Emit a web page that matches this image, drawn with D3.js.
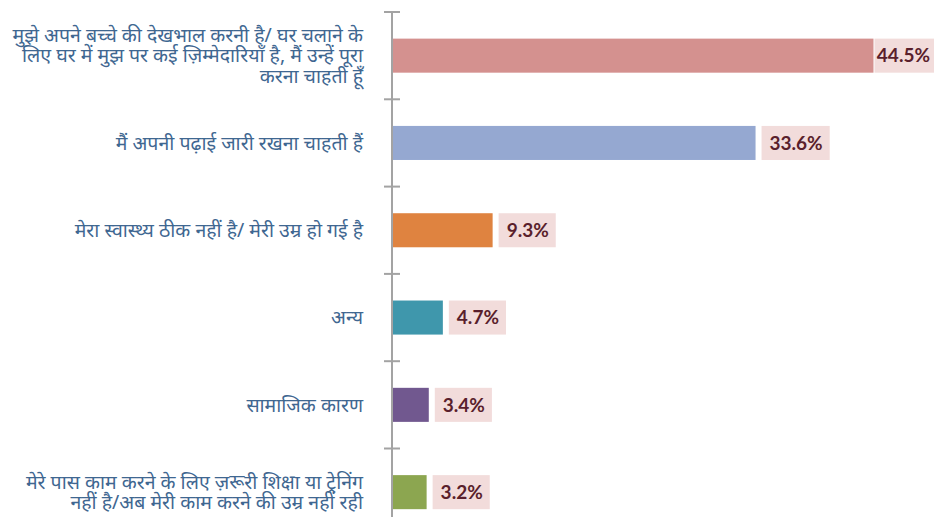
<!DOCTYPE html>
<html><head><meta charset="utf-8">
<script src="https://cdn.jsdelivr.net/npm/d3@7"></script>
<style>body{margin:0;background:#fff}svg{display:block}</style>
</head><body>
<svg id="c" width="934" height="517"></svg>
<script>
const categories = ["care","study","health","other","social","skills"];
const labelLines = [
  ["मुझे अपने बच्चे की देखभाल करनी है/ घर चलाने के","लिए घर में मुझ पर कई ज़िम्मेदारियाँ है, मैं उन्हें पूरा","करना चाहती हूँ"],
  ["मैं अपनी पढ़ाई जारी रखना चाहती हैं"],
  ["मेरा स्वास्थ्य ठीक नहीं है/ मेरी उम्र हो गई है"],
  ["अन्य"],
  ["सामाजिक कारण"],
  ["मेरे पास काम करने के लिए ज़रूरी शिक्षा या ट्रेनिंग","नहीं है/अब मेरी काम करने की उम्र नहीं रही"]
];
const values = [44.5, 33.6, 9.3, 4.7, 3.4, 3.2];
const valueLabels = ["44.5%","33.6%","9.3%","4.7%","3.4%","3.2%"];
const colors = ["#d4918f","#95a8d1","#df8340","#3f97ac","#71588f","#8ca650"];

const svg = d3.select("#c");
const x0 = 392;
const x = d3.scaleLinear().domain([0,50]).range([x0, x0+541]);
const y = d3.scaleBand().domain(categories).range([12, 12+87.3*6]).paddingInner(0.61).paddingOuter(0.305);
const step = y.step();

// axis
svg.append("line").attr("x1",x0).attr("x2",x0).attr("y1",12).attr("y2",517)
  .attr("stroke","#a3a3a3").attr("stroke-width",2);
categories.forEach((c,i)=>{
  const ty = y(c) - y.paddingOuter()*step;
  svg.append("line").attr("x1",x0-8).attr("x2",x0+8).attr("y1",ty).attr("y2",ty)
    .attr("stroke","#a3a3a3").attr("stroke-width",2);
});

// bars
svg.selectAll("rect.bar").data(categories).join("rect").attr("class","bar")
  .attr("x",x(0)+1).attr("y",d=>y(d))
  .attr("width",(d,i)=>x(values[i])-x(0)-1).attr("height",y.bandwidth())
  .attr("fill",(d,i)=>colors[i]);

// value labels
categories.forEach((c,i)=>{
  const g = svg.append("g");
  let bx = x(values[i]) + 6;
  const rect = g.append("rect").attr("fill","#f2dcdb").attr("y",y(c)).attr("height",y.bandwidth());
  const t = g.append("text").attr("y",y(c)+y.bandwidth()/2).attr("dy","0.36em")
    .attr("font-family","Lato, 'Open Sans', sans-serif").attr("font-weight","bold").attr("font-size",19)
    .attr("fill","#5a1f2c").text(valueLabels[i]);
  const w = t.node().getComputedTextLength();
  if (bx + 8 + w > 930) bx = Math.max(x(values[i]) + 1, 930 - w - 6);
  const tx = Math.min(bx + 8, 930 - w);
  t.attr("x", tx);
  rect.attr("x", bx).attr("width", tx + w + 7 - bx);
});

// category labels
categories.forEach((c,i)=>{
  const lines = labelLines[i];
  const cy = y(c)+y.bandwidth()/2;
  const lh = 20.5;
  const t = svg.append("text").attr("text-anchor","end")
    .attr("font-family","'Noto Sans', 'Noto Sans Devanagari', sans-serif").attr("font-size",19.5)
    .attr("fill","#3f6791");
  lines.forEach((l,j)=>{
    t.append("tspan").attr("x",363).attr("y", cy + (j-(lines.length-1)/2)*lh).attr("dy","0.35em").text(l);
  });
});
</script>
</body></html>
